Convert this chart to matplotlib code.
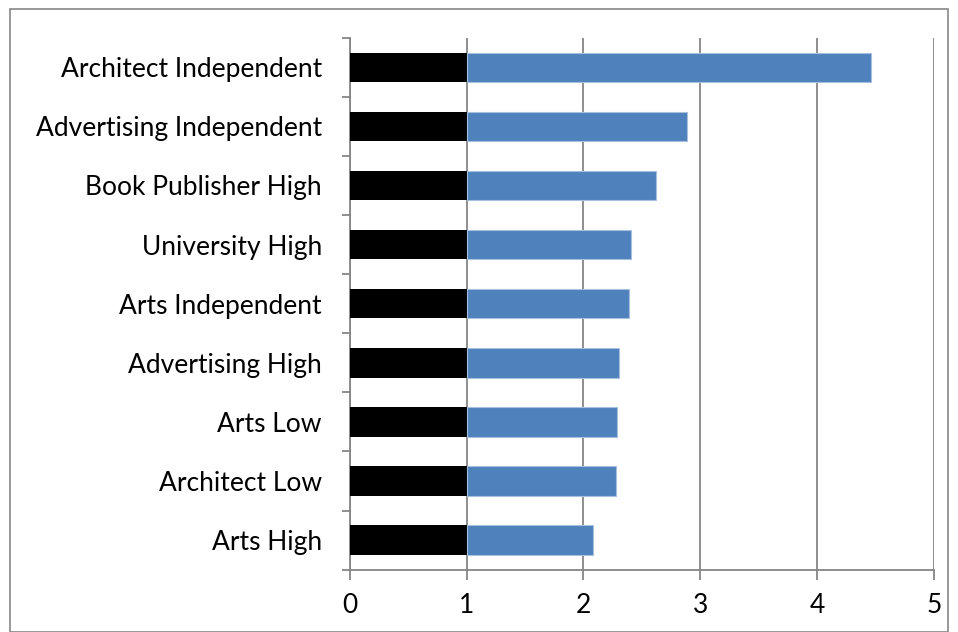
import numpy as np
import matplotlib.pyplot as plt
from matplotlib.patches import Rectangle

plt.rcParams['font.family'] = ['Lato', 'DejaVu Sans']

# categories bottom -> top
labels = ['Arts High', 'Architect Low', 'Arts Low', 'Advertising High',
          'Arts Independent', 'University High', 'Book Publisher High',
          'Advertising Independent', 'Architect Independent']
values = [2.085, 2.28, 2.29, 2.305, 2.39, 2.405, 2.62, 2.89, 4.46]
base = [1] * len(labels)

fig = plt.figure(figsize=(9.58, 6.32), dpi=100)
ax = fig.add_axes([0.3651, 0.0986, 0.6099, 0.8417])

y = np.arange(len(labels))
rest = [v - b for v, b in zip(values, base)]
ax.barh(y, base, height=0.5, color='black', zorder=3)
ax.barh(y, rest, left=base, height=0.5, color='#4F81BD',
        edgecolor='#A7C0DE', linewidth=0.8, zorder=3)

ax.set_xlim(0, 5)
ax.set_ylim(-0.5, len(labels) - 0.5)
ax.set_xticks(range(6))
ax.set_yticks(y)
ax.set_yticklabels(labels)
ax.set_yticks(np.arange(-0.5, len(labels)), minor=True)

gray = '#868686'
ax.grid(axis='x', color=gray, linewidth=1.3, zorder=0)
for s in ['top', 'right']:
    ax.spines[s].set_visible(False)
for s in ['left', 'bottom']:
    ax.spines[s].set_color(gray)
    ax.spines[s].set_linewidth(1.3)
ax.tick_params(axis='y', which='major', length=0, pad=20, labelsize=19)
ax.tick_params(axis='y', which='minor', length=6, color=gray, width=1.3)
ax.tick_params(axis='x', length=7, color=gray, width=1.3, labelsize=19, pad=10)

fig.patches.append(Rectangle((10 / 958, 0), 938 / 958, 623 / 632,
                             transform=fig.transFigure, fill=False,
                             edgecolor=gray, linewidth=1.2))

fig.savefig('out.png', dpi=100)
